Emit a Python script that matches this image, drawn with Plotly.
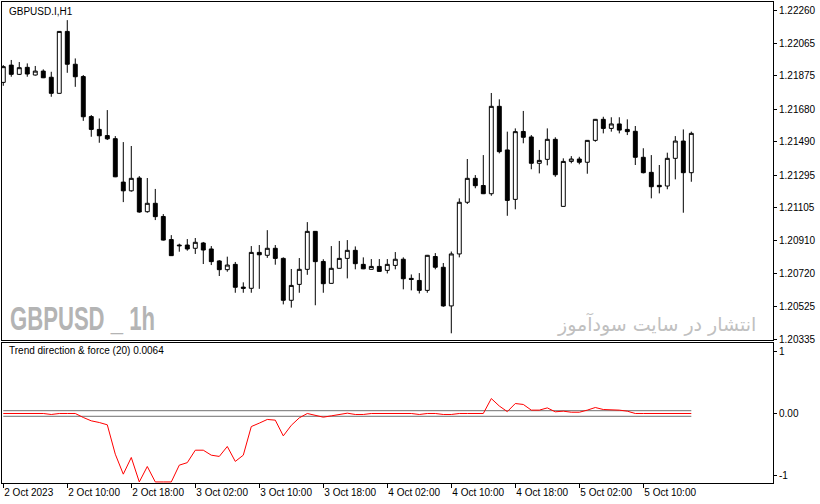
import plotly.graph_objects as go

# --- GBPUSD H1 bars ---
bar_index = list(range(87))
opens = [1.21837, 1.21938, 1.21884, 1.21925, 1.21880, 1.21903, 1.21867, 1.21773, 1.22135, 1.21943,
         1.21871, 1.21637, 1.21562, 1.21526, 1.21508, 1.21254, 1.21203, 1.21278, 1.21081, 1.21130,
         1.21053, 1.20918, 1.20886, 1.20886, 1.20867, 1.20898, 1.20863, 1.20793, 1.20742, 1.20773,
         1.20640, 1.20633, 1.20843, 1.20826, 1.20867, 1.20808, 1.20563, 1.20656, 1.20744, 1.20966,
         1.20790, 1.20662, 1.20750, 1.20808, 1.20855, 1.20773, 1.20744, 1.20761, 1.20738, 1.20767,
         1.20803, 1.20691, 1.20679, 1.20621, 1.20819, 1.20756, 1.20530, 1.20834, 1.21136, 1.21276,
         1.21234, 1.21186, 1.21697, 1.21442, 1.21153, 1.21550, 1.21518, 1.21364, 1.21387, 1.21504,
         1.21112, 1.21375, 1.21389, 1.21370, 1.21498, 1.21621, 1.21568, 1.21594, 1.21562, 1.21551,
         1.21399, 1.21311, 1.21235, 1.21231, 1.21393, 1.21494, 1.21309]
highs = [1.21938, 1.21968, 1.21956, 1.21948, 1.21933, 1.21913, 1.21899, 1.22137, 1.22201, 1.21977,
         1.21880, 1.21646, 1.21626, 1.21675, 1.21523, 1.21488, 1.21465, 1.21289, 1.21278, 1.21214,
         1.21067, 1.20944, 1.20894, 1.20921, 1.20927, 1.20904, 1.20880, 1.20798, 1.20818, 1.20787,
         1.20668, 1.20880, 1.20886, 1.20973, 1.20886, 1.20814, 1.20746, 1.20810, 1.21020, 1.20968,
         1.20803, 1.20880, 1.20910, 1.20915, 1.20878, 1.20814, 1.20804, 1.20804, 1.20804, 1.20845,
         1.20814, 1.20714, 1.20722, 1.20828, 1.20839, 1.20781, 1.20848, 1.21159, 1.21389, 1.21295,
         1.21412, 1.21775, 1.21738, 1.21549, 1.21568, 1.21670, 1.21529, 1.21442, 1.21568, 1.21516,
         1.21393, 1.21406, 1.21402, 1.21500, 1.21623, 1.21636, 1.21633, 1.21633, 1.21621, 1.21582,
         1.21452, 1.21412, 1.21354, 1.21426, 1.21523, 1.21562, 1.21549]
lows = [1.21817, 1.21870, 1.21880, 1.21870, 1.21877, 1.21862, 1.21753, 1.21772, 1.21893, 1.21811,
        1.21612, 1.21519, 1.21484, 1.21500, 1.21283, 1.21137, 1.21198, 1.21075, 1.21075, 1.21032,
        1.20912, 1.20822, 1.20847, 1.20853, 1.20834, 1.20775, 1.20769, 1.20705, 1.20730, 1.20607,
        1.20607, 1.20607, 1.20630, 1.20811, 1.20771, 1.20539, 1.20520, 1.20607, 1.20712, 1.20534,
        1.20607, 1.20661, 1.20749, 1.20691, 1.20744, 1.20745, 1.20743, 1.20731, 1.20720, 1.20744,
        1.20627, 1.20621, 1.20603, 1.20607, 1.20744, 1.20525, 1.20370, 1.20814, 1.21126, 1.21218,
        1.21184, 1.21174, 1.21422, 1.21057, 1.21095, 1.21481, 1.21329, 1.21305, 1.21352, 1.21285,
        1.21111, 1.21364, 1.21358, 1.21303, 1.21490, 1.21539, 1.21549, 1.21539, 1.21529, 1.21354,
        1.21305, 1.21159, 1.21188, 1.21212, 1.21270, 1.21075, 1.21256]
closes = [1.21929, 1.21884, 1.21923, 1.21886, 1.21903, 1.21864, 1.21773, 1.22135, 1.21943, 1.21870,
          1.21636, 1.21562, 1.21525, 1.21507, 1.21285, 1.21203, 1.21276, 1.21079, 1.21130, 1.21052,
          1.20915, 1.20824, 1.20882, 1.20863, 1.20902, 1.20857, 1.20789, 1.20742, 1.20769, 1.20639,
          1.20633, 1.20843, 1.20829, 1.20867, 1.20808, 1.20563, 1.20650, 1.20744, 1.20966, 1.20789,
          1.20660, 1.20750, 1.20808, 1.20855, 1.20777, 1.20747, 1.20761, 1.20732, 1.20773, 1.20803,
          1.20689, 1.20685, 1.20621, 1.20826, 1.20756, 1.20530, 1.20834, 1.21136, 1.21276, 1.21233,
          1.21186, 1.21697, 1.21432, 1.21147, 1.21549, 1.21516, 1.21364, 1.21381, 1.21504, 1.21297,
          1.21375, 1.21389, 1.21370, 1.21498, 1.21621, 1.21568, 1.21594, 1.21558, 1.21549, 1.21399,
          1.21309, 1.21227, 1.21227, 1.21393, 1.21494, 1.21309, 1.21539]

# Trend direction & force (20)
tdf = [0, 0, 0, 0, 0, 0, -0.016, 0, 0, 0,
       -0.064, -0.118, -0.145, -0.182, -0.654, -0.975, -0.707, -1.10, -0.852, -1.10,
       -1.10, -1.10, -0.83, -0.79, -0.59, -0.59, -0.67, -0.69, -0.53, -0.77,
       -0.67, -0.21, -0.155, -0.096, -0.107, -0.36, -0.19, -0.07, 0, -0.027,
       -0.059, -0.038, -0.016, 0.005, -0.016, -0.016, 0, 0, 0, 0,
       0, 0, -0.016, 0, 0, -0.016, -0.016, 0, 0, 0,
       0, 0.24, 0.12, 0.03, 0.16, 0.145, 0.054, 0.054, 0.09, 0.027,
       0.037, 0.02, 0.02, 0.054, 0.096, 0.064, 0.064, 0.054, 0.037, 0,
       0, 0, 0, 0, 0, 0, 0]
trigger = 0.045

price_ticks = [1.22260, 1.22065, 1.21875, 1.21680, 1.21490, 1.21295,
               1.21105, 1.20910, 1.20720, 1.20525, 1.20335]
time_ticks = [0, 8, 16, 24, 32, 40, 48, 56, 64, 72, 80]
time_labels = ["2 Oct 2023", "2 Oct 10:00", "2 Oct 18:00", "3 Oct 02:00", "3 Oct 10:00",
               "3 Oct 18:00", "4 Oct 02:00", "4 Oct 10:00", "4 Oct 18:00", "5 Oct 02:00",
               "5 Oct 10:00"]

FONT = "Liberation Sans, Arial, sans-serif"
XR = [-0.16, 96.21]

fig = go.Figure()
fig.add_trace(go.Candlestick(
    x=bar_index, open=opens, high=highs, low=lows, close=closes,
    increasing=dict(line=dict(color="black", width=1), fillcolor="white"),
    decreasing=dict(line=dict(color="black", width=1), fillcolor="black"),
    whiskerwidth=0, xaxis="x", yaxis="y", showlegend=False, hoverinfo="skip"))

for lvl in (trigger, -trigger):
    fig.add_trace(go.Scatter(x=bar_index, y=[lvl] * len(bar_index), mode="lines",
                             line=dict(color="#707070", width=1), xaxis="x2", yaxis="y2",
                             showlegend=False, hoverinfo="skip"))
fig.add_trace(go.Scatter(x=bar_index, y=tdf, mode="lines",
                         line=dict(color="#ff0000", width=1), xaxis="x2", yaxis="y2",
                         showlegend=False, hoverinfo="skip"))

axis_common = dict(showline=True, linecolor="black", linewidth=1, mirror=True,
                   showgrid=False, zeroline=False, fixedrange=True)

fig.update_layout(
    width=820, height=504,
    margin=dict(l=2, r=47, t=2, b=21, autoexpand=False),
    paper_bgcolor="white", plot_bgcolor="white",
    font=dict(family=FONT, size=10, color="black"),
    xaxis=dict(axis_common, domain=[0, 1], range=XR, anchor="y",
               showticklabels=False, ticks="", rangeslider=dict(visible=False)),
    yaxis=dict(axis_common, domain=[0.2963, 1], range=[1.20328, 1.22307], side="right",
               tickvals=price_ticks, ticktext=[f"{v:.5f}" for v in price_ticks],
               ticks="outside", ticklen=3, tickcolor="black"),
    xaxis2=dict(axis_common, domain=[0, 1], range=XR, anchor="y2",
                tickvals=time_ticks, ticktext=time_labels, ticks="outside",
                ticklen=4, tickcolor="black", ticklabelposition="outside right"),
    yaxis2=dict(axis_common, domain=[0, 0.2911], range=[-1.117, 1.133], side="right",
                tickvals=[1, 0, -1], ticktext=["1", "0.00", "-1"],
                ticks="outside", ticklen=3, tickcolor="black"),
)

fig.add_annotation(text="GBPUSD.I,H1", xref="paper", yref="paper", x=0.0065, y=0.981,
                   xanchor="left", yanchor="middle", showarrow=False,
                   font=dict(family=FONT, size=10, color="black"))
fig.add_annotation(text="Trend direction & force (20) 0.0064", xref="paper", yref="paper",
                   x=0.0065, y=0.2745, xanchor="left", yanchor="middle", showarrow=False,
                   font=dict(family=FONT, size=10, color="black"))
fig.add_annotation(text="<b>GBPUSD _ 1h</b>", xref="paper", yref="paper", x=0.008, y=0.343,
                   xanchor="left", yanchor="middle", showarrow=False,
                   font=dict(family=FONT, size=33, color="#b4b4b4"))
fig.add_annotation(text="انتشار در سایت سودآموز", xref="paper", yref="paper", x=0.981, y=0.331,
                   xanchor="right", yanchor="middle", showarrow=False,
                   font=dict(family="DejaVu Sans, Noto Sans, sans-serif", size=19, color="#c0c0c0"))

# page without body margin; watermark squeezed like the narrow terminal font
post = """
document.body.style.margin = '0';
var gd = document.getElementById('{plot_id}');
gd.querySelectorAll('.annotation-text').forEach(function (t) {
  if (t.textContent.indexOf('GBPUSD _') === 0) {
    t.style.transformBox = 'fill-box';
    t.style.transformOrigin = 'left center';
    t.style.transform = 'scaleX(0.67)';
  }
});
"""
fig.write_html("out.html", post_script=post, config={"displayModeBar": False})
